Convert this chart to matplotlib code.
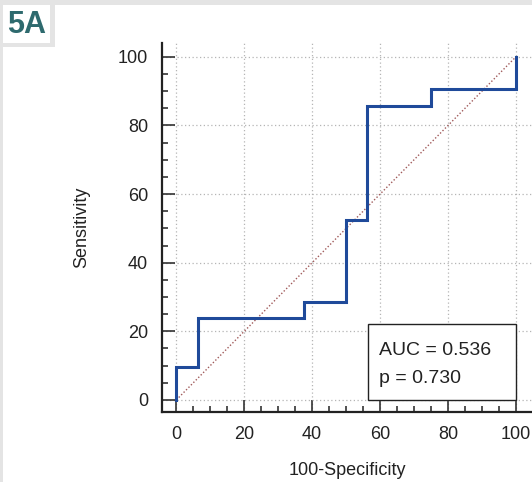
import numpy as np
import matplotlib
matplotlib.use("Agg")
import matplotlib.pyplot as plt
from matplotlib.patches import Rectangle
from matplotlib.ticker import MultipleLocator

plt.rcParams['font.family'] = ['Liberation Sans', 'DejaVu Sans']

# ROC curve steps (100-Specificity, Sensitivity)
fpr = [0, 0, 6.25, 6.25, 37.5, 37.5, 50, 50, 56.25, 56.25, 75, 75, 100, 100]
tpr = [0, 9.52, 9.52, 23.81, 23.81, 28.57, 28.57, 52.38, 52.38, 85.71, 85.71, 90.48, 90.48, 100]
ticks = [0, 20, 40, 60, 80, 100]
auc_text = "AUC = 0.536"
p_text = "p = 0.730"
panel_label = "5A"

W, H = 532, 482
fig = plt.figure(figsize=(W / 100, H / 100), dpi=100)
fig.patch.set_facecolor('#e4e4e4')


def px_rect(x0, y0, x1, y1, color='white'):
    # rectangle given in pixel coords from top-left
    fig.patches.append(Rectangle((x0 / W, 1 - y1 / H), (x1 - x0) / W, (y1 - y0) / H,
                                 transform=fig.transFigure, facecolor=color,
                                 edgecolor='none', zorder=-5))


px_rect(3, 47, W, H)
px_rect(55, 5, W, 47)
px_rect(3, 5, 50, 43)
fig.text(27 / W, 1 - 25 / H, panel_label, ha='center', va='center',
         fontsize=22, fontweight='bold', color='#2e6a6e',
         family=['Liberation Sans Narrow', 'Liberation Sans', 'DejaVu Sans'])

ax = fig.add_axes([162 / W, 1 - 412 / H, (W - 162) / W, (412 - 43) / H])
ax.set_facecolor('none')
ax.set_xlim(-4.2, 104.7)
ax.set_ylim(-3.5, 104)

for s in ['top', 'right']:
    ax.spines[s].set_visible(False)
for s in ['left', 'bottom']:
    ax.spines[s].set_linewidth(1.6)
    ax.spines[s].set_color('#222222')

ax.set_xticks(ticks)
ax.set_yticks(ticks)
ax.xaxis.set_minor_locator(MultipleLocator(5))
ax.yaxis.set_minor_locator(MultipleLocator(5))
ax.tick_params(which='major', direction='in', length=9, width=1.2, color='#333333',
               labelsize=13, labelcolor='#222222', pad=10)
ax.tick_params(which='minor', direction='in', length=4.5, width=1.2, color='#333333')
ax.grid(True, which='major', linestyle=(0, (1, 2)), color='#b5b5b5', linewidth=0.9)

ax.plot([0, 100], [0, 100], linestyle=(0, (1, 1.5)), color='#a05a5a', linewidth=1.0, zorder=2)
ax.plot(fpr, tpr, color='#1f4a9a', linewidth=2.2, zorder=3, solid_joinstyle='miter')

ax.add_patch(Rectangle((56.5, 0), 100 - 56.5, 22.2, facecolor='white',
                       edgecolor='#222222', linewidth=1.0, zorder=4))
ax.text(59.7, 13.1, auc_text, fontsize=14, color='#222222', va='baseline', zorder=5)
ax.text(59.7, 5.0, p_text, fontsize=14, color='#222222', va='baseline', zorder=5)

ax.set_xlabel("100-Specificity", fontsize=13, color='#222222', labelpad=14)
ax.set_ylabel("Sensitivity", fontsize=13, color='#222222', labelpad=20)

fig.savefig("out.png", dpi=100, facecolor=fig.get_facecolor())
